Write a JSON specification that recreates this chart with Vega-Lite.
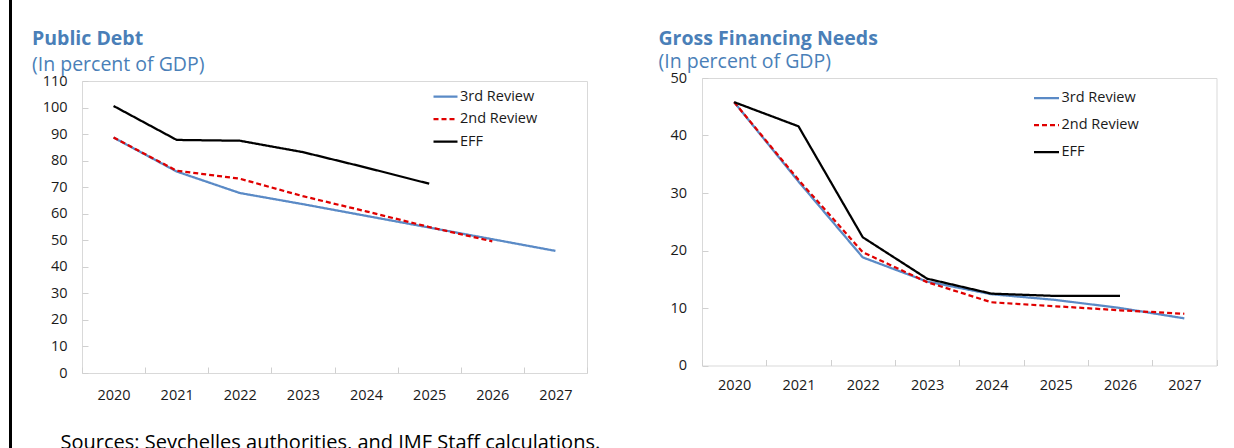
{
  "$schema": "https://vega.github.io/schema/vega-lite/v6.json",
  "padding": {"left": 9, "top": 0, "right": 0, "bottom": 0},
  "background": "white",
  "bounds": "flush",
  "spacing": 0,
  "resolve": {"scale": {"color": "independent", "strokeDash": "independent"}, "legend": {"color": "independent", "strokeDash": "independent"}},
  "config": {
    "view": {"stroke": null},
    "font": "Open Sans",
    "axis": {"grid": false, "labelFont": "Open Sans", "labelFontSize": 14.5, "labelColor": "#1a1a1a", "tickColor": "#d0d0d0", "domain": false, "titleFont": "Open Sans"},
    "legend": {"labelFont": "Open Sans"}
  },
  "datasets": {
    "debt": [
      {"series": "3rd Review", "year": "2020", "value": 88.7},
      {"series": "3rd Review", "year": "2021", "value": 75.9},
      {"series": "3rd Review", "year": "2022", "value": 67.8},
      {"series": "3rd Review", "year": "2023", "value": 63.6},
      {"series": "3rd Review", "year": "2024", "value": 59.2},
      {"series": "3rd Review", "year": "2025", "value": 54.8},
      {"series": "3rd Review", "year": "2026", "value": 50.4},
      {"series": "3rd Review", "year": "2027", "value": 46.0},
      {"series": "2nd Review", "year": "2020", "value": 88.7},
      {"series": "2nd Review", "year": "2021", "value": 76.2},
      {"series": "2nd Review", "year": "2022", "value": 73.2},
      {"series": "2nd Review", "year": "2023", "value": 66.6},
      {"series": "2nd Review", "year": "2024", "value": 60.9},
      {"series": "2nd Review", "year": "2025", "value": 55.0},
      {"series": "2nd Review", "year": "2026", "value": 49.6},
      {"series": "EFF", "year": "2020", "value": 100.6},
      {"series": "EFF", "year": "2021", "value": 87.8},
      {"series": "EFF", "year": "2022", "value": 87.5},
      {"series": "EFF", "year": "2023", "value": 83.2},
      {"series": "EFF", "year": "2024", "value": 77.4},
      {"series": "EFF", "year": "2025", "value": 71.3}
    ],
    "gfn": [
      {"series": "3rd Review", "year": "2020", "value": 45.8},
      {"series": "3rd Review", "year": "2021", "value": 32.0},
      {"series": "3rd Review", "year": "2022", "value": 18.8},
      {"series": "3rd Review", "year": "2023", "value": 14.6},
      {"series": "3rd Review", "year": "2024", "value": 12.4},
      {"series": "3rd Review", "year": "2025", "value": 11.4},
      {"series": "3rd Review", "year": "2026", "value": 10.0},
      {"series": "3rd Review", "year": "2027", "value": 8.2},
      {"series": "2nd Review", "year": "2020", "value": 45.8},
      {"series": "2nd Review", "year": "2021", "value": 32.3},
      {"series": "2nd Review", "year": "2022", "value": 19.7},
      {"series": "2nd Review", "year": "2023", "value": 14.5},
      {"series": "2nd Review", "year": "2024", "value": 11.0},
      {"series": "2nd Review", "year": "2025", "value": 10.3},
      {"series": "2nd Review", "year": "2026", "value": 9.6},
      {"series": "2nd Review", "year": "2027", "value": 9.0},
      {"series": "EFF", "year": "2020", "value": 45.8},
      {"series": "EFF", "year": "2021", "value": 41.6},
      {"series": "EFF", "year": "2022", "value": 22.3},
      {"series": "EFF", "year": "2023", "value": 15.1},
      {"series": "EFF", "year": "2024", "value": 12.5},
      {"series": "EFF", "year": "2025", "value": 12.1},
      {"series": "EFF", "year": "2026", "value": 12.1}
    ]
  },
  "hconcat": [
    {"data": {"values": []}, "mark": "point", "width": 3, "height": 448, "view": {"fill": "black", "stroke": null}},
    {"data": {"values": []}, "mark": "point", "width": 70, "height": 10},
    {
      "vconcat": [
        {"data": {"values": []}, "mark": "point", "width": 10, "height": 81},
        {
          "width": 505,
          "height": 292,
          "view": {"stroke": "#d9d9d9", "strokeWidth": 1},
          "title": {"text": "Public Debt", "subtitle": "(In percent of GDP)", "anchor": "start", "frame": "group", "dx": -50, "offset": -2, "fontSize": 19.5, "fontWeight": "bold", "color": "#4a7fb8", "subtitleColor": "#4a7fb8", "subtitleFontSize": 19.5, "subtitlePadding": 6, "font": "Open Sans", "subtitleFont": "Open Sans"},
          "data": {"name": "debt"},
          "mark": {"type": "line", "strokeWidth": 2.25},
          "encoding": {
            "x": {"field": "year", "type": "ordinal", "bandPosition": 0.5,
              "scale": {"type": "band", "paddingInner": 0, "paddingOuter": 0, "domain": ["2020", "2021", "2022", "2023", "2024", "2025", "2026", "2027"]},
              "axis": {"title": "Sources: Seychelles authorities, and IMF Staff calculations.", "titleX": -22, "titleY": 69, "titleAlign": "left", "titleBaseline": "middle", "titleFontSize": 20, "titleFontWeight": "normal", "titleColor": "#000000", "labelAngle": 0, "tickBand": "extent", "tickSize": -6, "labelPadding": 21}},
            "y": {"field": "value", "type": "quantitative",
              "scale": {"domain": [0, 110], "nice": false},
              "axis": {"title": null, "values": [0, 10, 20, 30, 40, 50, 60, 70, 80, 90, 100, 110], "tickSize": -6, "labelPadding": 21}},
            "color": {"field": "series", "type": "nominal",
              "scale": {"domain": ["3rd Review", "2nd Review", "EFF"], "range": ["#5a8ac6", "#e00000", "#000000"]},
              "legend": {"orient": "none", "legendX": 350, "legendY": 2, "title": null, "symbolType": "stroke", "symbolSize": 576, "symbolStrokeWidth": 2.25, "labelFontSize": 14.5, "labelOffset": 1, "rowPadding": 2.5, "labelColor": "#1a1a1a"}},
            "strokeDash": {"field": "series", "type": "nominal",
              "scale": {"domain": ["3rd Review", "2nd Review", "EFF"], "range": [[1, 0], [5, 3], [1, 0]]},
              "legend": {"orient": "none", "legendX": 350, "legendY": 2, "title": null, "symbolType": "stroke", "symbolSize": 576, "symbolStrokeWidth": 2.25, "labelFontSize": 14.5, "labelOffset": 1, "rowPadding": 2.5, "labelColor": "#1a1a1a"}}
          }
        }
      ],
      "spacing": 0,
      "bounds": "flush",
      "resolve": {"scale": {"color": "independent", "strokeDash": "independent"}, "legend": {"color": "independent", "strokeDash": "independent"}}
    },
    {"data": {"values": []}, "mark": "point", "width": 619.5, "height": 10},
    {
      "vconcat": [
        {"data": {"values": []}, "mark": "point", "width": 10, "height": 77.5},
        {
          "width": 514.5,
          "height": 287.5,
          "view": {"stroke": "#d9d9d9", "strokeWidth": 1},
          "title": {"text": "Gross Financing Needs", "subtitle": "(In percent of GDP)", "anchor": "start", "frame": "group", "dx": -43.5, "offset": -2, "fontSize": 19.5, "fontWeight": "bold", "color": "#4a7fb8", "subtitleColor": "#4a7fb8", "subtitleFontSize": 19.5, "subtitlePadding": 3, "font": "Open Sans", "subtitleFont": "Open Sans"},
          "data": {"name": "gfn"},
          "mark": {"type": "line", "strokeWidth": 2.25},
          "encoding": {
            "x": {"field": "year", "type": "ordinal", "bandPosition": 0.5,
              "scale": {"type": "band", "paddingInner": 0, "paddingOuter": 0, "domain": ["2020", "2021", "2022", "2023", "2024", "2025", "2026", "2027"]},
              "axis": {"title": null, "labelAngle": 0, "tickBand": "extent", "tickSize": -6, "labelPadding": 19}},
            "y": {"field": "value", "type": "quantitative",
              "scale": {"domain": [0, 50], "nice": false},
              "axis": {"title": null, "values": [0, 10, 20, 30, 40, 50], "tickSize": -6, "labelPadding": 21.5}},
            "color": {"field": "series", "type": "nominal",
              "scale": {"domain": ["3rd Review", "2nd Review", "EFF"], "range": ["#5a8ac6", "#e00000", "#000000"]},
              "legend": {"orient": "none", "legendX": 330.5, "legendY": 6, "title": null, "symbolType": "stroke", "symbolSize": 625, "symbolStrokeWidth": 2.25, "labelFontSize": 14.5, "labelOffset": 1, "rowPadding": 6, "labelColor": "#1a1a1a"}},
            "strokeDash": {"field": "series", "type": "nominal",
              "scale": {"domain": ["3rd Review", "2nd Review", "EFF"], "range": [[1, 0], [5, 3], [1, 0]]},
              "legend": {"orient": "none", "legendX": 330.5, "legendY": 6, "title": null, "symbolType": "stroke", "symbolSize": 625, "symbolStrokeWidth": 2.25, "labelFontSize": 14.5, "labelOffset": 1, "rowPadding": 6, "labelColor": "#1a1a1a"}}
          }
        }
      ],
      "spacing": 0,
      "bounds": "flush",
      "resolve": {"scale": {"color": "independent", "strokeDash": "independent"}, "legend": {"color": "independent", "strokeDash": "independent"}}
    }
  ]
}
